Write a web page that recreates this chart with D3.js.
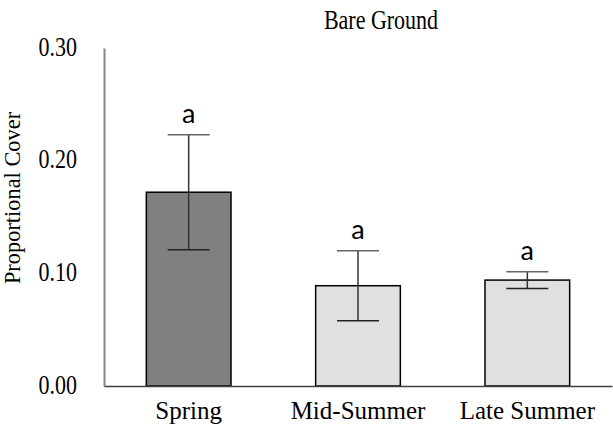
<!DOCTYPE html>
<html>
<head>
<meta charset="utf-8">
<script src="https://cdn.jsdelivr.net/npm/d3@7"></script>
<style>
  html, body { margin: 0; padding: 0; background: #fff; }
  svg { display: block; }
</style>
</head>
<body>
<svg id="chart" width="613" height="428"></svg>
<script>
// Seasonal bare-ground cover: mean proportion with standard error
const seasons = ["Spring", "Mid-Summer", "Late Summer"];
const meanCover = [0.172, 0.089, 0.094];
const stdError = [0.051, 0.031, 0.0075];
const groupLetters = ["a", "a", "a"];
const barFills = ["#808080", "#e0e0e0", "#e0e0e0"];
const yTicks = [0, 0.1, 0.2, 0.3];

const svg = d3.select("#chart");
const serif = "'Liberation Serif', 'Times New Roman', serif";
const sans = "Lato, 'Open Sans', sans-serif";
const stretch = "scale(1,1.2)";

const x = d3.scaleBand()
  .domain(seasons)
  .range([104, 612])
  .paddingInner(0.5)
  .paddingOuter(0.25);

const y = d3.scaleLinear()
  .domain([0, 0.3])
  .range([386, 48]);

// Title
svg.append("text")
  .attr("transform", `translate(381,29) ${stretch}`)
  .attr("text-anchor", "middle")
  .style("font-family", serif).style("font-size", "22px")
  .text("Bare Ground");

// Y axis title
svg.append("text")
  .attr("transform", "translate(20,198) rotate(-90) scale(1.12,1.15)")
  .attr("text-anchor", "middle")
  .style("font-family", serif).style("font-size", "20px")
  .text("Proportional Cover");

// Y axis
const yAxis = svg.append("g")
  .attr("transform", "translate(104,0)")
  .call(d3.axisLeft(y).tickValues(yTicks).tickFormat(d3.format(".2f")).tickSize(0).tickPadding(27));
yAxis.select(".domain").attr("stroke", "#868686").attr("stroke-width", 2);
yAxis.selectAll(".tick text")
  .attr("x", null).attr("dy", null)
  .attr("transform", `translate(-27,7) ${stretch}`)
  .style("font-family", serif).style("font-size", "22px").attr("fill", "#000");

// Bars
const bars = seasons.map((s, i) => ({ season: s, mean: meanCover[i], se: stdError[i], letter: groupLetters[i], fill: barFills[i] }));

svg.append("g").selectAll("rect")
  .data(bars).join("rect")
  .attr("x", d => x(d.season))
  .attr("y", d => y(d.mean))
  .attr("width", x.bandwidth())
  .attr("height", d => y(0) - y(d.mean))
  .attr("fill", d => d.fill)
  .attr("stroke", "#000")
  .attr("stroke-width", 1.5);

// X axis
const xAxis = svg.append("g")
  .attr("transform", "translate(0,386)")
  .call(d3.axisBottom(x).tickSize(0).tickPadding(15));
xAxis.select(".domain").attr("stroke", "#404040").attr("stroke-width", 1.5);
xAxis.selectAll("text")
  .style("font-family", serif).style("font-size", "25px").attr("fill", "#000");

// Error bars with significance letters
const capHalf = 21;
const err = svg.append("g");
bars.forEach(d => {
  const cx = x(d.season) + x.bandwidth() / 2;
  const top = y(d.mean + d.se), bot = y(d.mean - d.se);
  err.append("line").attr("x1", cx).attr("x2", cx).attr("y1", top).attr("y2", bot)
    .attr("stroke", "#333").attr("stroke-width", 1.5);
  err.append("line").attr("x1", cx - capHalf).attr("x2", cx + capHalf).attr("y1", top).attr("y2", top)
    .attr("stroke", "#666").attr("stroke-width", 1.5);
  err.append("line").attr("x1", cx - capHalf).attr("x2", cx + capHalf).attr("y1", bot).attr("y2", bot)
    .attr("stroke", "#222").attr("stroke-width", 1.5);
  err.append("text")
    .attr("x", cx).attr("y", top - 12)
    .attr("text-anchor", "middle")
    .style("font-family", sans).style("font-size", "27px")
    .text(d.letter);
});
</script>
</body>
</html>
